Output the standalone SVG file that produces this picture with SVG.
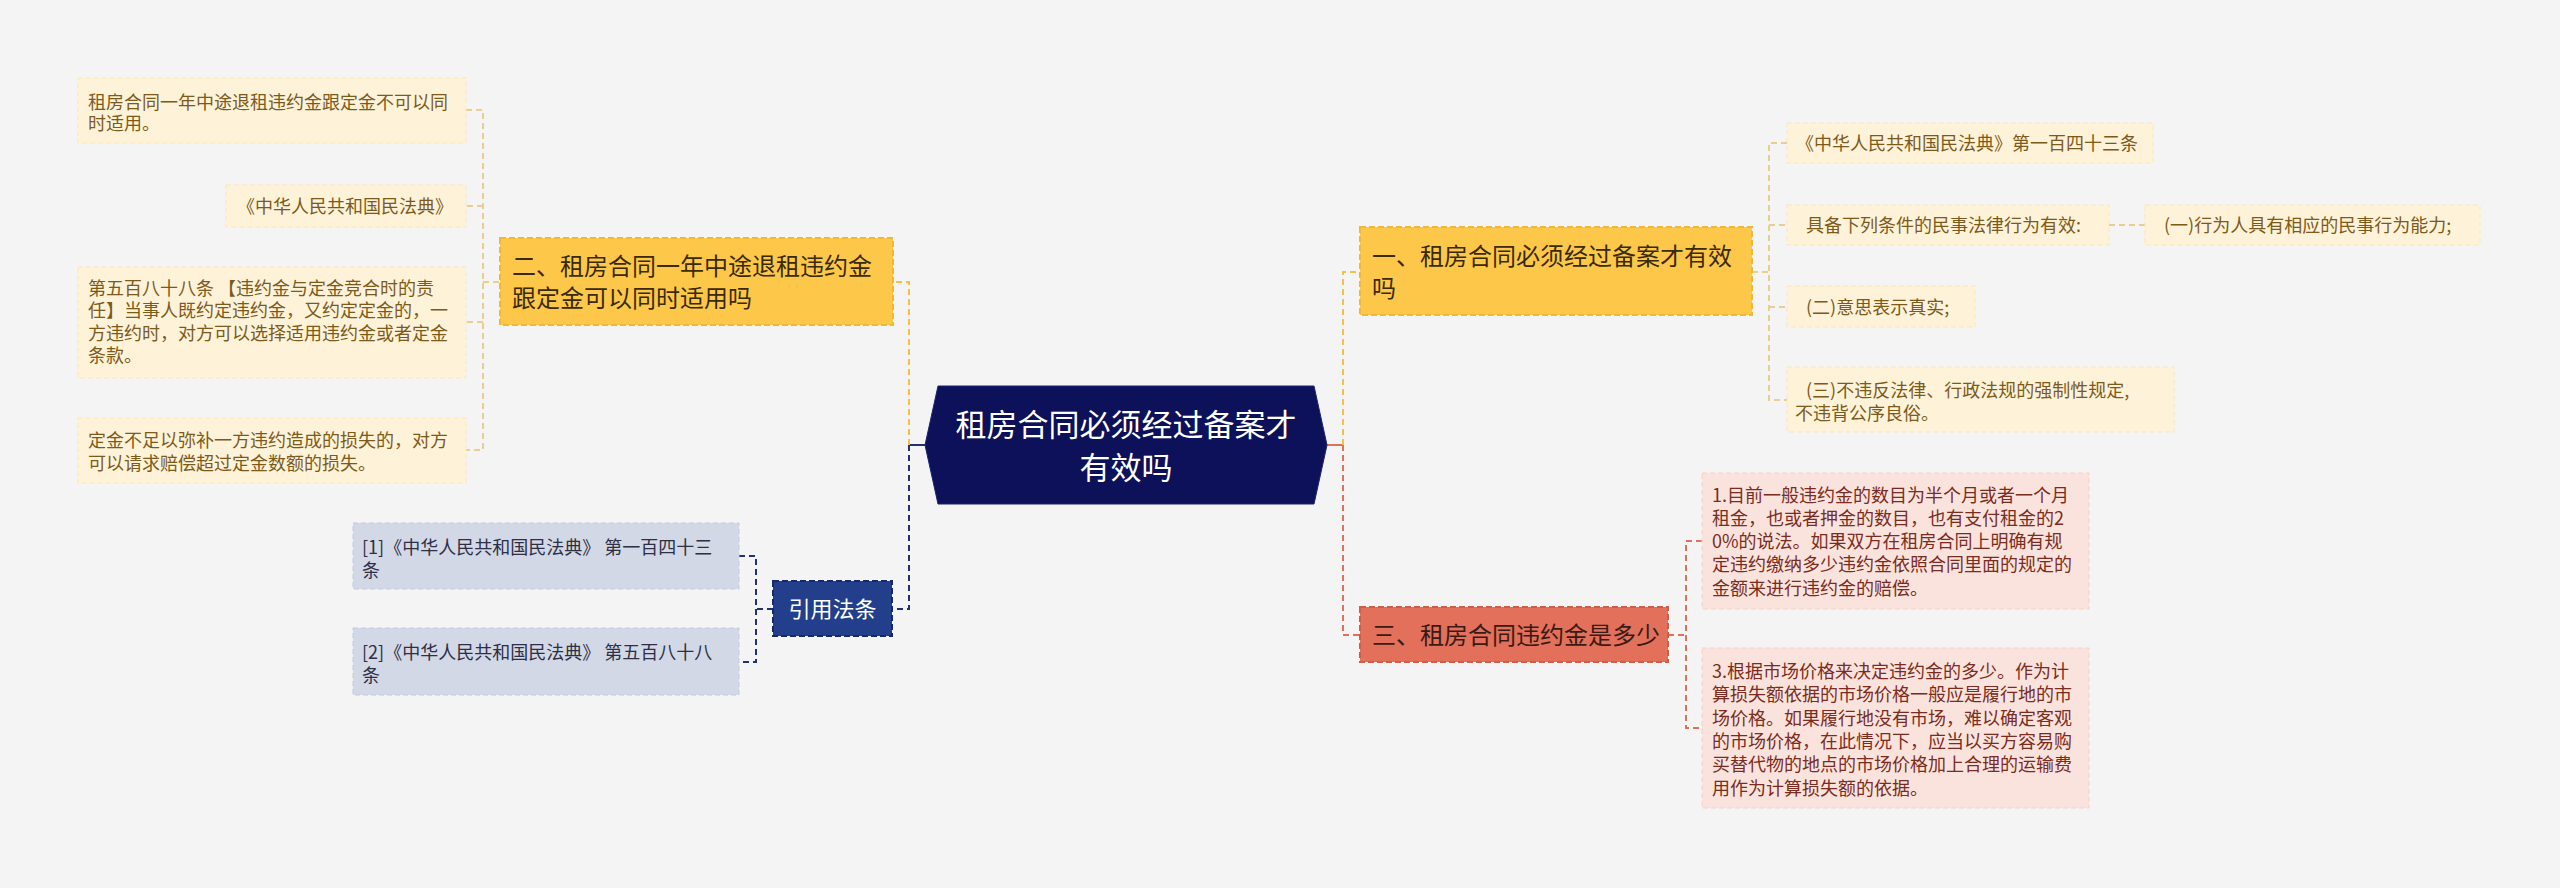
<svg xmlns="http://www.w3.org/2000/svg" width="2560" height="888" viewBox="0 0 2560 888">
<style>
text{font-family:"Noto Sans CJK SC","Noto Sans",sans-serif;}
.leafY rect{fill:#fef3d9;stroke:#fbe6b8;stroke-width:1;stroke-dasharray:5 3;}
.leafY text{font-size:18px;fill:#7d5a19;}
.leafR rect{fill:#fbe3dd;stroke:#f6cfc6;stroke-width:1;stroke-dasharray:5 3;}
.leafR text{font-size:18px;fill:#7a2c21;}
.leafB rect{fill:#d3d8e7;stroke:#c3cadf;stroke-width:1;stroke-dasharray:5 3;}
.leafB text{font-size:18px;fill:#2c2f45;}
.mainY rect{fill:#fdc849;stroke:#f0b838;stroke-width:2;stroke-dasharray:6 3;}
.mainY text{font-size:24px;fill:#3a2a08;}
.mainR rect{fill:#e2705a;stroke:#cf5d48;stroke-width:2;stroke-dasharray:6 3;}
.mainR text{font-size:24px;fill:#3a1a12;}
.mainB rect{fill:#233f8c;stroke:#142a6a;stroke-width:2;stroke-dasharray:6 3;}
.mainB text{font-size:22px;fill:#ffffff;}
.c{fill:none;stroke-width:2;stroke-dasharray:6 4;}
.cy{stroke:#f4c04a;}
.cyl{stroke:#ebcd8f;}
.cb{stroke:#1f3172;}
.cr{stroke:#e0705a;}
.cs{fill:none;stroke-width:2;}
</style>
<rect x="0" y="0" width="2560" height="888" fill="#f4f4f4"/>

<g id="connectors">
  <path class="cs" stroke="#1f3172" d="M925,445 H909"/>
  <path class="c cy" d="M909,445 V282 H893"/>
  <path class="c cb" d="M909,445 V609 H892"/>
  <path class="cs" stroke="#e0705a" d="M1327,445 H1343"/>
  <path class="c cy" d="M1343,445 V272 H1360"/>
  <path class="c cr" d="M1343,445 V635 H1360"/>
  <path class="c cyl" d="M1752,272 H1769 M1787,143 H1769 V400 H1787 M1769,225 H1787 M1769,307 H1787"/>
  <path class="c cyl" d="M2109,225 H2145"/>
  <path class="c cr" d="M1668,635 H1686 M1702,541 H1686 V728 H1702"/>
  <path class="c cyl" d="M499,282 H483 M466,110 H483 V450 H466 M483,206 H466 M483,322 H466"/>
  <path class="c cb" d="M773,609 H756 M739,556 H756 V662 H739"/>
</g>

<g id="center">
  <polygon points="925,445 938,386 1314,386 1327,445 1314,504 938,504" fill="#0c1159" stroke="#1a2370" stroke-width="1"/>
  <text x="1126" y="436" text-anchor="middle" font-size="31" fill="#ffffff">租房合同必须经过备案才</text>
  <text x="1126" y="479" text-anchor="middle" font-size="31" fill="#ffffff">有效吗</text>
</g>

<g id="node-1" class="mainY">
  <rect x="1360" y="227" width="392" height="88"/>
  <text x="1372" y="265">一、租房合同必须经过备案才有效</text>
  <text x="1372" y="297">吗</text>
</g>
<g id="node-1-1" class="leafY">
  <rect x="1787" y="123" width="366" height="40"/>
  <text x="1796" y="149.5">《中华人民共和国民法典》第一百四十三条</text>
</g>
<g id="node-1-2" class="leafY">
  <rect x="1787" y="205" width="322" height="40"/>
  <text x="1806" y="231.5">具备下列条件的民事法律行为有效:</text>
</g>
<g id="node-1-2-1" class="leafY">
  <rect x="2145" y="205" width="335" height="40"/>
  <text x="2164" y="231.5">(一)行为人具有相应的民事行为能力;</text>
</g>
<g id="node-1-3" class="leafY">
  <rect x="1787" y="286" width="188" height="41"/>
  <text x="1806" y="313.5">(二)意思表示真实;</text>
</g>
<g id="node-1-4" class="leafY">
  <rect x="1787" y="367" width="387" height="65"/>
  <text x="1806" y="396.5">(三)不违反法律、行政法规的强制性规定,</text>
  <text x="1795" y="419.5">不违背公序良俗。</text>
</g>

<g id="node-2" class="mainY">
  <rect x="500" y="238" width="393" height="87"/>
  <text x="512" y="275">二、租房合同一年中途退租违约金</text>
  <text x="512" y="307">跟定金可以同时适用吗</text>
</g>
<g id="node-2-1" class="leafY">
  <rect x="78" y="78" width="388" height="65"/>
  <text x="88" y="108.5">租房合同一年中途退租违约金跟定金不可以同</text>
  <text x="88" y="130">时适用。</text>
</g>
<g id="node-2-2" class="leafY">
  <rect x="226" y="185" width="240" height="42"/>
  <text x="237" y="212.5">《中华人民共和国民法典》</text>
</g>
<g id="node-2-3" class="leafY">
  <rect x="78" y="267" width="388" height="111"/>
  <text x="88" y="294.5">第五百八十八条 【违约金与定金竞合时的责</text>
  <text x="88" y="317">任】当事人既约定违约金，又约定定金的，一</text>
  <text x="88" y="339.5">方违约时，对方可以选择适用违约金或者定金</text>
  <text x="88" y="362">条款。</text>
</g>
<g id="node-2-4" class="leafY">
  <rect x="78" y="418" width="388" height="65"/>
  <text x="88" y="446.5">定金不足以弥补一方违约造成的损失的，对方</text>
  <text x="88" y="469.5">可以请求赔偿超过定金数额的损失。</text>
</g>

<g id="node-3" class="mainR">
  <rect x="1360" y="607" width="308" height="55"/>
  <text x="1372" y="644">三、租房合同违约金是多少</text>
</g>
<g id="node-3-1" class="leafR">
  <rect x="1702" y="473" width="387" height="136"/>
  <text x="1712" y="501.5">1.目前一般违约金的数目为半个月或者一个月</text>
  <text x="1712" y="524.8">租金，也或者押金的数目，也有支付租金的2</text>
  <text x="1712" y="548.1">0%的说法。如果双方在租房合同上明确有规</text>
  <text x="1712" y="571.4">定违约缴纳多少违约金依照合同里面的规定的</text>
  <text x="1712" y="594.7">金额来进行违约金的赔偿。</text>
</g>
<g id="node-3-2" class="leafR">
  <rect x="1702" y="648" width="387" height="160"/>
  <text x="1712" y="678">3.根据市场价格来决定违约金的多少。作为计</text>
  <text x="1712" y="701.3">算损失额依据的市场价格一般应是履行地的市</text>
  <text x="1712" y="724.6">场价格。如果履行地没有市场，难以确定客观</text>
  <text x="1712" y="748">的市场价格，在此情况下，应当以买方容易购</text>
  <text x="1712" y="771.3">买替代物的地点的市场价格加上合理的运输费</text>
  <text x="1712" y="794.6">用作为计算损失额的依据。</text>
</g>

<g id="node-4" class="mainB">
  <rect x="773" y="581" width="119" height="55"/>
  <text x="832.5" y="617" text-anchor="middle">引用法条</text>
</g>
<g id="node-4-1" class="leafB">
  <rect x="353" y="523" width="386" height="66"/>
  <text x="362" y="553.5">[1]《中华人民共和国民法典》 第一百四十三</text>
  <text x="362" y="576.5">条</text>
</g>
<g id="node-4-2" class="leafB">
  <rect x="353" y="628" width="386" height="67"/>
  <text x="362" y="658.5">[2]《中华人民共和国民法典》 第五百八十八</text>
  <text x="362" y="681.5">条</text>
</g>
</svg>
